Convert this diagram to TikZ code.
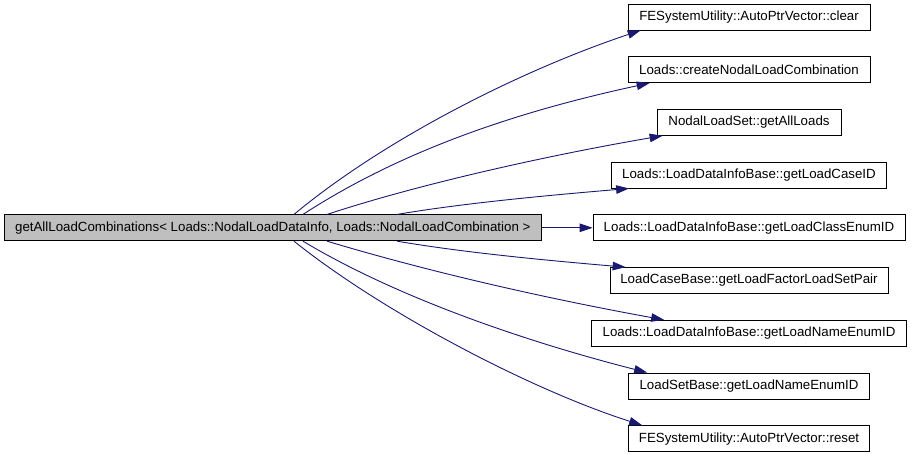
\documentclass[tikz,border=0pt]{standalone}
\usepackage{fontspec}
\setmainfont{Liberation Sans}
\usepackage{tikz}
\usetikzlibrary{arrows.meta, positioning}

\definecolor{edgeblue}{HTML}{191970}

\begin{document}
\begin{tikzpicture}[x=1pt, y=-1pt, >={Triangle[length=13pt, width=8.5pt]},
    fnbox/.style={draw=black, line width=0.7pt, rectangle, fill=white,
                  minimum height=26pt, inner sep=0pt,
                  font=\fontsize{13.3}{15}\selectfont},
    mainbox/.style={fnbox, fill=gray!50},
    call/.style={->, draw=edgeblue, line width=0.9pt},
    node distance=26pt
  ]
  \useasboundingbox (0,0) rectangle (912,453);

  % callees
  \node[fnbox, minimum width=242pt] at (749,17) (clear) {FESystemUtility::AutoPtrVector::clear};
  \node[fnbox, minimum width=242pt, below=of clear] (create) {Loads::createNodalLoadCombination};
  \node[fnbox, minimum width=184pt, below=of create] (allloads) {NodalLoadSet::getAllLoads};
  \node[fnbox, minimum width=275pt, below=of allloads] (caseid) {Loads::LoadDataInfoBase::getLoadCaseID};
  \node[fnbox, minimum width=312pt, below=of caseid] (classid) {Loads::LoadDataInfoBase::getLoadClassEnumID};
  \node[fnbox, minimum width=278pt, below=of classid] (pair) {LoadCaseBase::getLoadFactorLoadSetPair};
  \node[fnbox, minimum width=315pt, below=of pair] (nameid) {Loads::LoadDataInfoBase::getLoadNameEnumID};
  \node[fnbox, minimum width=241pt, below=of nameid] (setname) {LoadSetBase::getLoadNameEnumID};
  \node[fnbox, minimum width=241pt, below=of setname] (reset) {FESystemUtility::AutoPtrVector::reset};

  % caller
  \node[mainbox, minimum width=537pt, left=51pt of classid] (main)
    {getAllLoadCombinations< Loads::NodalLoadDataInfo, Loads::NodalLoadCombination >};

  % calls upwards
  \draw[call] ([xshift=290pt]main.north west) .. controls +(90,-75) and +(-120,40) .. ([xshift=13pt]clear.south west);
  \draw[call] ([xshift=299pt]main.north west) .. controls +(100,-65) and +(-130,28) .. ([xshift=22pt]create.south west);
  \draw[call] ([xshift=323pt]main.north west) .. controls +(100,-33) and +(-100,17) .. ([xshift=6pt]allloads.south west);
  \draw[call] ([xshift=393pt]main.north west) .. controls +(70,-12) and +(-70,6) .. ([xshift=18pt]caseid.south west);

  % straight call
  \draw[call] (main.east) -- (classid.west);

  % calls downwards
  \draw[call] ([xshift=393pt]main.south west) .. controls +(70,12) and +(-70,-6) .. ([xshift=16pt]pair.north west);
  \draw[call] ([xshift=323pt]main.south west) .. controls +(110,33) and +(-110,-20) .. ([xshift=73pt]nameid.north west);
  \draw[call] ([xshift=299pt]main.south west) .. controls +(100,60) and +(-110,-28) .. ([xshift=19pt]setname.north west);
  \draw[call] ([xshift=290pt]main.south west) .. controls +(90,72) and +(-110,-35) .. ([xshift=14pt]reset.north west);
\end{tikzpicture}
\end{document}
